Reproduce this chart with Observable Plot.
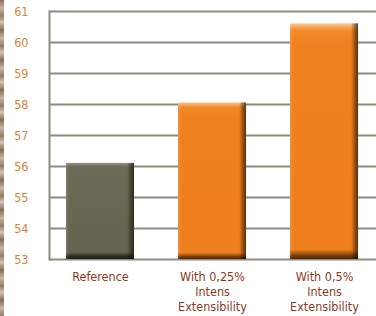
<!DOCTYPE html>
<html><head><meta charset="utf-8">
<script src="https://cdn.jsdelivr.net/npm/d3@7"></script>
<script src="https://cdn.jsdelivr.net/npm/@observablehq/plot@0.6"></script>
<style>
body{margin:0;background:#fff;}
#wrap{position:relative;width:376px;height:316px;overflow:hidden;background:#fff}
#strip{position:absolute;left:0;top:0;width:4px;height:316px;z-index:2;
background:repeating-linear-gradient(180deg,#8c6c58 0px,#c8b6a6 8px,#9a7a68 16px,#d2c4b4 22px,#8c6c58 30px)}
svg{display:block}
</style></head><body><div id="wrap"><div id="strip"></div></div>
<script>
const categories = ["Reference", "With 0,25%\nIntens\nExtensibility", "With 0,5%\nIntens\nExtensibility"];
const values = [56.1, 58.05, 60.6];
const kinds = ["ref", "add", "add"];
const yTicks = [53, 54, 55, 56, 57, 58, 59, 60, 61];

const data = categories.map((c, i) => ({category: c, value: values[i], kind: kinds[i]}));
const refData = data.filter(d => d.kind === "ref");
const addData = data.filter(d => d.kind === "add");

const chart = Plot.plot({
  width: 376, height: 316,
  marginLeft: 49, marginRight: 0, marginTop: 11, marginBottom: 57,
  style: {fontFamily: "'DejaVu Sans', sans-serif", fontStretch: "condensed", fontSize: "12.5px", background: "transparent"},
  x: {domain: categories, range: [65, 360], paddingInner: 0.389, paddingOuter: 0},
  y: {domain: [53, 61]},
  marks: [
    Plot.ruleY(yTicks, {stroke: "#8e8b7d", strokeWidth: 2}),
    Plot.barY(refData, {x: "category", y1: 53, y2: "value", fill: "url(#gRef)"}),
    Plot.barY(addData, {x: "category", y1: 53, y2: "value", fill: "url(#gOr)"}),
    Plot.barY(data, {x: "category", y1: 53, y2: "value", fill: "url(#gShade)"}),
    Plot.frame({anchor: "left", stroke: "#8e8b7d", strokeWidth: 2}),
    Plot.axisY({ticks: yTicks, tickSize: 0, tickPadding: 21, fill: "#d8843a", tickFormat: d => String(d), label: null}),
    Plot.axisX({tickSize: 0, tickPadding: 11, fill: "#8e3a1c", lineHeight: 1.2, label: null})
  ]
});

const ns = "http://www.w3.org/2000/svg";
const defs = document.createElementNS(ns, "defs");
defs.innerHTML = `
<linearGradient id="gRef" x1="0" y1="0" x2="0" y2="1">
  <stop offset="0" stop-color="#9a9684"/>
  <stop offset="0.035" stop-color="#6e6a58"/>
  <stop offset="0.93" stop-color="#666250"/>
  <stop offset="0.97" stop-color="#2e2d22"/>
  <stop offset="1" stop-color="#1e1d16"/>
</linearGradient>
<linearGradient id="gOr" x1="0" y1="0" x2="0" y2="1">
  <stop offset="0" stop-color="#fbc691"/>
  <stop offset="0.03" stop-color="#f28a2a"/>
  <stop offset="0.08" stop-color="#f08120"/>
  <stop offset="0.96" stop-color="#ef7f1e"/>
  <stop offset="0.985" stop-color="#7a3e0c"/>
  <stop offset="1" stop-color="#4a2506"/>
</linearGradient>
<linearGradient id="gShade" x1="0" y1="0" x2="1" y2="0">
  <stop offset="0" stop-color="#fff" stop-opacity="0.12"/>
  <stop offset="0.05" stop-color="#fff" stop-opacity="0"/>
  <stop offset="0.9" stop-color="#000" stop-opacity="0"/>
  <stop offset="1" stop-color="#2a1400" stop-opacity="0.75"/>
</linearGradient>`;
chart.insertBefore(defs, chart.firstChild);
document.getElementById("wrap").appendChild(chart);
</script>
</body></html>
